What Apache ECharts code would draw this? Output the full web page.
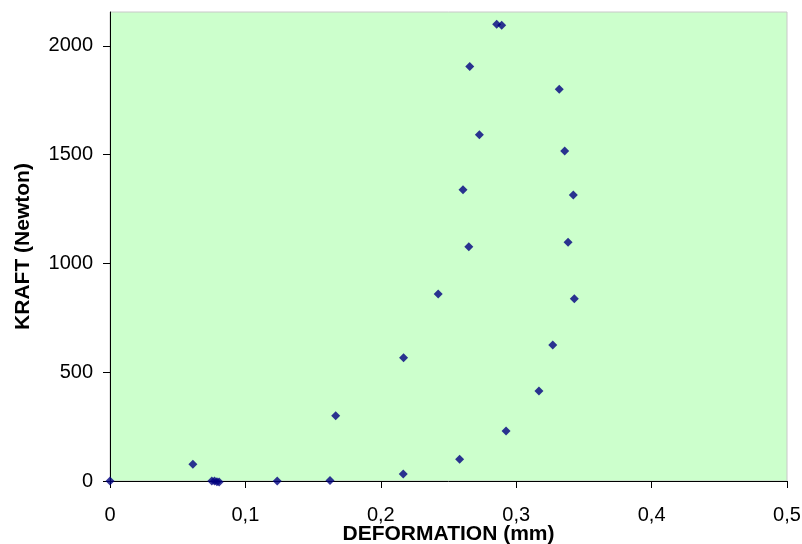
<!DOCTYPE html>
<html>
<head>
<meta charset="utf-8">
<script src="https://cdn.jsdelivr.net/npm/echarts@6/dist/echarts.min.js"></script>
<style>
  html, body { margin: 0; padding: 0; background: #fff; }
  #chart { width: 802px; height: 544px; }
</style>
</head>
<body>
<div id="chart"></div>
<script>
// deformation (mm) and force (N)
var deformation = [0, 0.0612, 0.0752, 0.0772, 0.0790, 0.0806, 0.1235, 0.1625, 0.1667,
  0.2166, 0.2168, 0.2424, 0.2582, 0.2607, 0.2650, 0.2657, 0.2728, 0.2856, 0.2893,
  0.2925, 0.3168, 0.3270, 0.3318, 0.3358, 0.3383, 0.3422, 0.3429];
var kraft = [0, 77, 0, 0, -3, -5, 0, 2, 300,
  32, 567, 860, 100, 1339, 1077, 1905, 1592, 2100, 2095,
  230, 414, 625, 1801, 1517, 1097, 1315, 838];
var yTicks = [0, 500, 1000, 1500, 2000];

var points = deformation.map(function (d, i) { return [d, kraft[i]]; });

var myChart = echarts.init(document.getElementById('chart'));
var font = 'Liberation Sans, Arial, sans-serif';

myChart.setOption({
  animation: false,
  grid: {
    left: 110, top: 12, right: 15, bottom: 63,
    outerBoundsMode: 'none',
    containLabel: false,
    show: true,
    backgroundColor: '#CCFFCC',
    borderColor: '#c8c8c8',
    borderWidth: 1
  },
  xAxis: {
    type: 'value',
    min: 0, max: 0.5, interval: 0.1,
    name: 'DEFORMATION (mm)',
    nameLocation: 'middle',
    nameGap: 43,
    nameMoveOverlap: false,
    nameTextStyle: { fontFamily: font, fontSize: 21, fontWeight: 'bold', color: '#000' },
    axisLine: { lineStyle: { color: '#000', width: 1 } },
    axisTick: { inside: false, length: 7, lineStyle: { color: '#000' } },
    axisLabel: {
      margin: 24, fontFamily: font, fontSize: 20, color: '#000',
      formatter: function (v) { return String(+v.toFixed(1)).replace('.', ','); }
    },
    splitLine: { show: false }
  },
  yAxis: {
    type: 'value',
    min: 0, max: 2156,
    name: 'KRAFT (Newton)',
    nameLocation: 'middle',
    nameGap: 76,
    nameRotate: 90,
    nameMoveOverlap: false,
    nameTextStyle: { fontFamily: font, fontSize: 21, fontWeight: 'bold', color: '#000' },
    axisLine: { show: true, lineStyle: { color: '#000', width: 1 } },
    axisTick: { show: true, length: 7, customValues: yTicks, lineStyle: { color: '#000' } },
    axisLabel: {
      margin: 17, fontFamily: font, fontSize: 20, color: '#000', customValues: yTicks,
      formatter: function (v) { return String(v); }
    },
    splitLine: { show: false }
  },
  series: [{
    type: 'scatter',
    symbol: 'diamond',
    symbolSize: 9,
    clip: false,
    itemStyle: { color: '#000080' },
    data: points
  }]
});
</script>
</body>
</html>
